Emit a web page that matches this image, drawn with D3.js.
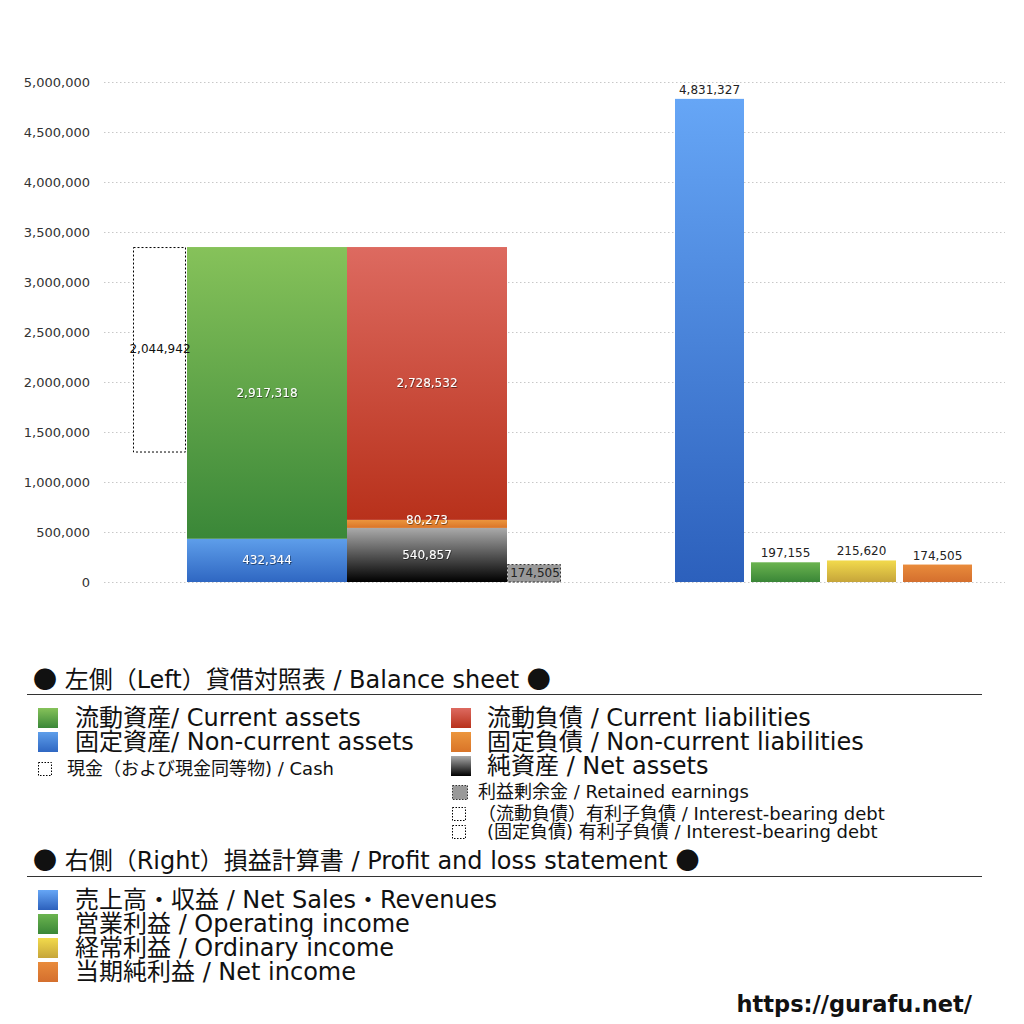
<!DOCTYPE html>
<html>
<head>
<meta charset="UTF-8">
<title>Balance sheet / PL</title>
<script src="https://cdn.jsdelivr.net/npm/d3@7"></script>
<style>
  body { margin:0; background:#fff; }
  svg { font-family: "DejaVu Sans", "Noto Sans CJK JP", sans-serif; }
  .tick text { fill:#333; font-size:13px; font-family: "DejaVu Sans", sans-serif; }
  .grid line { stroke:#c8c8c8; stroke-dasharray:1.5,2.5; }
  .val { font-family: "DejaVu Sans", sans-serif; font-size:12px; text-anchor:middle; }
  .dot { font-family: "Noto Sans CJK JP", sans-serif; }
</style>
</head>
<body>
<svg id="svg" width="1024" height="1024"></svg>
<script>
// ---- data ----
var yTicks = [0, 500000, 1000000, 1500000, 2000000, 2500000, 3000000, 3500000, 4000000, 4500000, 5000000];

var assetKeys   = ['noncurrentAssets', 'currentAssets'];
var assetValues = [432344, 2917318];
var liabKeys    = ['netAssets', 'noncurrentLiab', 'currentLiab'];
var liabValues  = [540857, 80273, 2728532];
var cashValue     = 2044942;
var retainedValue = 174505;

var plKeys   = ['sales', 'operating', 'ordinary', 'net'];
var plValues = [4831327, 197155, 215620, 174505];

var gradients = {
  currentAssets:    ['#86c25a', '#3a8738'],
  noncurrentAssets: ['#5e9eea', '#2f67c2'],
  currentLiab:      ['#dd6a60', '#b8311b'],
  noncurrentLiab:   ['#ec963d', '#d97428'],
  netAssets:        ['#aaaaaa', '#000000'],
  sales:            ['#66a6f6', '#2c60bc'],
  operating:        ['#6bb44f', '#3a8637'],
  ordinary:         ['#f2da4c', '#c6a53a'],
  net:              ['#e98b3b', '#d46f2e']
};

var legendLeft = [
  {key:'currentAssets', text:'流動資産/ Current assets'},
  {key:'noncurrentAssets', text:'固定資産/ Non-current assets'},
  {key:'cash', text:'現金（および現金同等物) / Cash', small:true}
];
var legendRight = [
  {key:'currentLiab', text:'流動負債 /  Current liabilities'},
  {key:'noncurrentLiab', text:'固定負債 / Non-current liabilities'},
  {key:'netAssets', text:'純資産 / Net assets'},
  {key:'retained', text:'利益剰余金 / Retained earnings', small:true},
  {key:'debt', text:'（流動負債）有利子負債 / Interest-bearing debt', small:true},
  {key:'debt', text:'(固定負債) 有利子負債 / Interest-bearing debt', small:true}
];
var legendPL = [
  {key:'sales', text:'売上高・収益 / Net Sales・Revenues'},
  {key:'operating', text:'営業利益 / Operating income'},
  {key:'ordinary', text:'経常利益 / Ordinary income'},
  {key:'net', text:'当期純利益 / Net income'}
];
var headingLeft  = '左側（Left）貸借対照表 / Balance sheet';
var headingRight = '右側（Right）損益計算書 / Profit and loss statement';

var fmt = d3.format(',');

var svg = d3.select('#svg');
var defs = svg.append('defs');

Object.keys(gradients).forEach(function(k){
  var g = defs.append('linearGradient').attr('id','g_'+k)
    .attr('x1',0).attr('x2',0).attr('y1',0).attr('y2',1);
  g.append('stop').attr('offset','0%').attr('stop-color',gradients[k][0]);
  g.append('stop').attr('offset','100%').attr('stop-color',gradients[k][1]);
});

var shadow = defs.append('filter').attr('id','shadow')
  .attr('x','-20%').attr('y','-40%').attr('width','140%').attr('height','180%');
shadow.append('feDropShadow').attr('dx',0.6).attr('dy',0.8)
  .attr('stdDeviation',0.5).attr('flood-color','#000').attr('flood-opacity',0.6);

// ---- scales ----
var y = d3.scaleLinear().domain([0, 5000000]).range([582, 82]);
var xLeft = d3.scaleBand().domain(['assets','liabilities']).range([187, 507]);
var xRight = d3.scaleBand().domain(plKeys).range([671.5, 975.5])
  .paddingInner(7/76).paddingOuter(3.5/76);
var sideW = 54;

// grid + axis
svg.append('g').attr('class','grid')
  .selectAll('line').data(yTicks).join('line')
  .attr('x1',104).attr('x2',1005)
  .attr('y1',function(d){return y(d)+0.5;}).attr('y2',function(d){return y(d)+0.5;});

var axis = svg.append('g').attr('transform','translate(90,0)')
  .call(d3.axisLeft(y).tickValues(yTicks).tickFormat(fmt).tickSize(0).tickPadding(0));
axis.select('.domain').remove();

// stacked columns
function stack(keys, values){
  var acc = 0;
  return keys.map(function(k,i){ var d = {key:k, value:values[i], y0:acc}; acc += values[i]; d.y1 = acc; return d; });
}
var assetStack = stack(assetKeys, assetValues);
var liabStack  = stack(liabKeys, liabValues);
var totalAssets = d3.sum(assetValues);

function drawStack(data, col){
  var g = svg.append('g');
  g.selectAll('rect').data(data).join('rect')
    .attr('x', xLeft(col)).attr('width', xLeft.bandwidth())
    .attr('y', function(d){return y(d.y1);})
    .attr('height', function(d){return y(d.y0)-y(d.y1);})
    .attr('fill', function(d){return 'url(#g_'+d.key+')';});
  g.selectAll('text').data(data).join('text')
    .attr('class','val')
    .attr('x', xLeft(col)+xLeft.bandwidth()/2)
    .attr('y', function(d){ var c = (y(d.y0)+y(d.y1))/2; return d.key==='noncurrentLiab' ? c : c+4; })
    .attr('fill','#fff').attr('filter','url(#shadow)')
    .text(function(d){return fmt(d.value);});
}
drawStack(assetStack, 'assets');
drawStack(liabStack, 'liabilities');

// cash dashed box
var cashX = xLeft('assets') - sideW;
svg.append('rect')
  .attr('x', cashX+0.5).attr('width', sideW-2)
  .attr('y', y(totalAssets)+0.5).attr('height', y(0)-y(cashValue))
  .attr('fill','#fff').attr('stroke','#000').attr('stroke-dasharray','2,2');
svg.append('text').attr('class','val')
  .attr('x', cashX + sideW/2).attr('y', y(totalAssets) + (y(0)-y(cashValue))/2 + 4)
  .attr('fill','#111').text(fmt(cashValue));

// retained earnings dashed gray box
var retX = xLeft('liabilities') + xLeft.bandwidth();
svg.append('rect')
  .attr('x', retX+0.5).attr('width', sideW-1)
  .attr('y', y(retainedValue)).attr('height', y(0)-y(retainedValue))
  .attr('fill','#999').attr('stroke','#333').attr('stroke-dasharray','2,2');
svg.append('text').attr('class','val')
  .attr('x', retX + sideW/2 + 1).attr('y', y(retainedValue/2)+4)
  .attr('fill','#222').text(fmt(retainedValue));

// profit & loss bars
var plData = plKeys.map(function(k,i){return {key:k, value:plValues[i]};});
svg.append('g').selectAll('rect').data(plData).join('rect')
  .attr('x', function(d){return xRight(d.key);}).attr('width', xRight.bandwidth())
  .attr('y', function(d){return y(d.value);})
  .attr('height', function(d){return y(0)-y(d.value);})
  .attr('fill', function(d){return 'url(#g_'+d.key+')';});
svg.append('g').selectAll('text').data(plData).join('text')
  .attr('class','val').attr('fill','#222')
  .attr('x', function(d){return xRight(d.key)+xRight.bandwidth()/2;})
  .attr('y', function(d){return y(d.value)-5;})
  .text(function(d){return fmt(d.value);});

// ---- legend ----
function swatch(g, key, x, yy){
  if (key === 'cash' || key === 'debt') {
    g.append('rect').attr('x',x+0.5).attr('y',yy+0.5).attr('width',13).attr('height',13)
      .attr('fill','#fff').attr('stroke','#000').attr('stroke-dasharray','1.5,1.5');
  } else if (key === 'retained') {
    g.append('rect').attr('x',x+0.5).attr('y',yy+0.5).attr('width',15).attr('height',14)
      .attr('fill','#999').attr('stroke','#333').attr('stroke-dasharray','1.5,1.5');
  } else {
    g.append('rect').attr('x',x).attr('y',yy).attr('width',20).attr('height',20)
      .attr('fill','url(#g_'+key+')');
  }
}

function heading(text, yy, lineY){
  var t = svg.append('text').attr('x',33).attr('y',yy).attr('font-size',24).attr('fill','#111');
  t.append('tspan').attr('class','dot').text('●');
  t.append('tspan').text(' ' + text + ' ');
  t.append('tspan').attr('class','dot').text('●');
  svg.append('line').attr('x1',27).attr('x2',982).attr('y1',lineY).attr('y2',lineY)
    .attr('stroke','#333').attr('stroke-width',1.2);
}

heading(headingLeft, 688, 694.5);

var lg = svg.append('g');
var leftRows = [718, 742, 769];
legendLeft.forEach(function(d,i){
  var cy = leftRows[i];
  if (d.small) { swatch(lg, d.key, 38, cy-7); lg.append('text').attr('x',67).attr('y',cy+6).attr('font-size',18).attr('fill','#111').text(d.text); }
  else { swatch(lg, d.key, 38, cy-10); lg.append('text').attr('x',75).attr('y',cy+8).attr('font-size',24).attr('fill','#111').text(d.text); }
});
var rightRows = [718, 742, 766, 792, 814, 832];
var smallX = [478, 478, 487];
legendRight.forEach(function(d,i){
  var cy = rightRows[i];
  if (d.small) { swatch(lg, d.key, 452, cy-7); lg.append('text').attr('x', smallX[i-3]).attr('y',cy+6).attr('font-size',18).attr('fill','#111').text(d.text); }
  else { swatch(lg, d.key, 451, cy-10); lg.append('text').attr('x',487).attr('y',cy+8).attr('font-size',24).attr('fill','#111').text(d.text); }
});

heading(headingRight, 869, 876.5);
var plRows = [900, 924, 948, 972];
legendPL.forEach(function(d,i){
  var cy = plRows[i];
  swatch(lg, d.key, 38, cy-10);
  lg.append('text').attr('x',75).attr('y',cy+8).attr('font-size',24).attr('fill','#111').text(d.text);
});

svg.append('text').attr('x',972).attr('y',1012).attr('text-anchor','end')
  .attr('font-size',22.5).attr('font-weight','bold').attr('fill','#111')
  .attr('font-family','"DejaVu Sans", sans-serif').text('https://gurafu.net/');
</script>
</body>
</html>
